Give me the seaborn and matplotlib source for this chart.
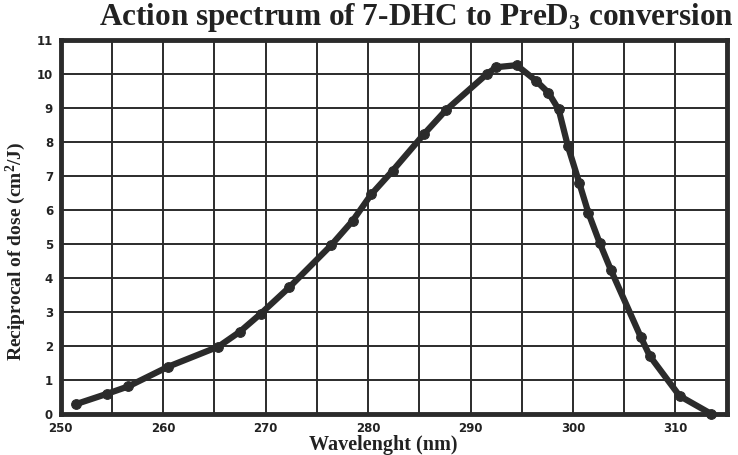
import matplotlib
matplotlib.use("Agg")
import matplotlib.pyplot as plt
import seaborn as sns
import pandas as pd

wavelength = [251.5, 254.5, 256.6, 260.5, 265.4, 267.5, 269.5, 272.3, 276.4, 278.5,
              280.3, 282.4, 285.5, 287.6, 291.6, 292.5, 294.5, 296.4, 297.6, 298.6,
              299.5, 300.6, 301.5, 302.6, 303.7, 306.6, 307.5, 310.4, 313.5]
reciprocal_dose = [0.30, 0.60, 0.82, 1.40, 1.99, 2.43, 2.95, 3.73, 4.97, 5.69,
                   6.46, 7.16, 8.25, 8.94, 10.0, 10.2, 10.26, 9.80, 9.45, 8.96,
                   7.88, 6.81, 5.92, 5.04, 4.24, 2.28, 1.71, 0.54, 0.01]
x_ticks = [250, 260, 270, 280, 290, 300, 310]
x_grid = [255, 265, 275, 285, 295, 305]
y_ticks = list(range(0, 12))

df = pd.DataFrame({"Wavelength": wavelength, "Reciprocal": reciprocal_dose})

sns.set_theme(style="white")
plt.rcParams['font.family'] = ['DejaVu Sans']
plt.rcParams['mathtext.fontset'] = 'custom'
plt.rcParams['mathtext.rm'] = 'Liberation Serif:bold'
plt.rcParams['mathtext.it'] = 'Liberation Serif:bold'
plt.rcParams['mathtext.bf'] = 'Liberation Serif:bold'

fig = plt.figure(figsize=(7.38, 4.55), dpi=100)
ax = fig.add_axes([60.7/738, 1-414.3/455, (726.7-60.7)/738, (414.3-40)/455])

ink = "#2b2b2b"
for gx in x_ticks + x_grid:
    ax.axvline(gx, color=ink, lw=1.4, zorder=1)
for gy in y_ticks:
    ax.axhline(gy, color=ink, lw=1.4, zorder=1)

sns.lineplot(data=df, x="Wavelength", y="Reciprocal", ax=ax, color=ink, lw=4.5,
             marker="o", markersize=7, markeredgecolor=ink, markerfacecolor=ink,
             zorder=3, clip_on=False)

ax.set_xlim(250, 315)
ax.set_ylim(0, 11)
ax.set_xticks(sorted(x_ticks + x_grid))
ax.set_xticklabels([str(t) if t in x_ticks else "" for t in sorted(x_ticks + x_grid)])
ax.set_yticks(y_ticks)
ax.set_yticklabels([str(t) for t in y_ticks])
ax.tick_params(axis="both", which="major", length=3, width=2, color=ink,
               labelsize=8.5, pad=2.5, labelcolor="#222222")
for lab in ax.get_xticklabels() + ax.get_yticklabels():
    lab.set_fontweight("heavy")

for s in ax.spines.values():
    s.set_visible(True)
    s.set_color(ink)
    s.set_linewidth(3.5)

ax.set_xlabel("")
ax.set_ylabel("")

fig.text(416/738, 1-18/455, "Action spectrum of 7-DHC to PreD$_3$ conversion",
         ha="center", va="center", fontsize=22.5, fontweight="bold",
         family="Liberation Serif", color="#222222")
fig.text(383/738, 1-445/455, "Wavelenght (nm)", ha="center", va="center",
         fontsize=14.5, fontweight="bold", family="Liberation Serif", color="#222222")
fig.text(16/738, 1-251/455, "Reciprocal of dose (cm$^2$/J)", ha="center", va="center",
         rotation=90, fontsize=14, fontweight="bold", family="Liberation Serif",
         color="#222222")

fig.savefig("out.png", dpi=100, facecolor="white")
